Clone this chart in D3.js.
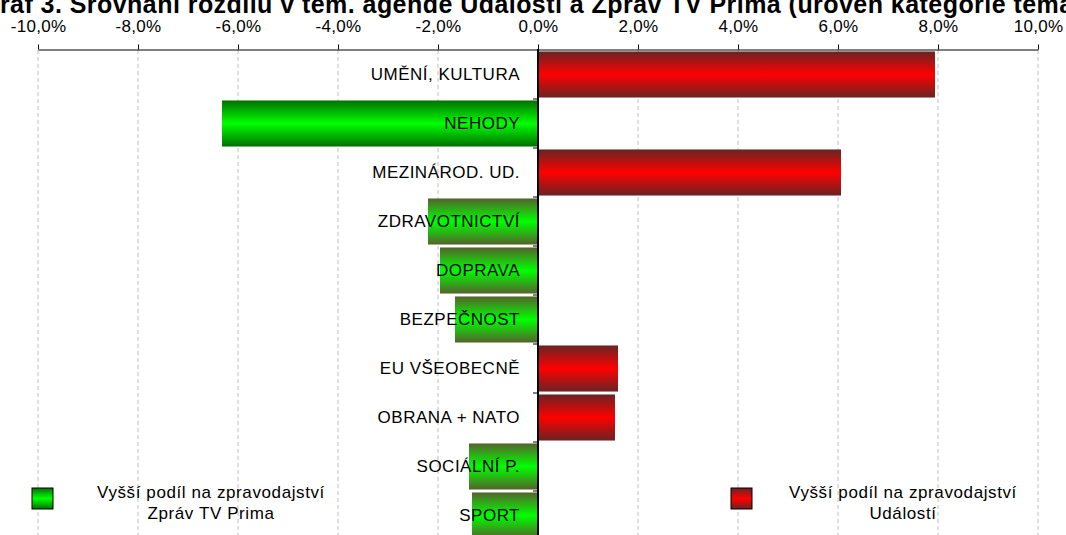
<!DOCTYPE html>
<html>
<head>
<meta charset="utf-8">
<script src="https://cdn.jsdelivr.net/npm/d3@7"></script>
<style>
  body { margin: 0; background: #fff; overflow: hidden; }
  svg { display: block; font-family: "Liberation Sans", Arial, sans-serif; }
</style>
</head>
<body>
<svg width="1066" height="535"></svg>
<script>
let categories = [
  "UMĚNÍ, KULTURA",
  "NEHODY",
  "MEZINÁROD. UD.",
  "ZDRAVOTNICTVÍ",
  "DOPRAVA",
  "BEZPEČNOST",
  "EU VŠEOBECNĚ",
  "OBRANA + NATO",
  "SOCIÁLNÍ P.",
  "SPORT"
];
let values = [7.94, -6.32, 6.06, -2.2, -1.96, -1.66, 1.6, 1.54, -1.38, -1.32];
let tickValues = [-10, -8, -6, -4, -2, 0, 2, 4, 6, 8, 10];
let legendLabels = [
  ["Vyšší podíl na zpravodajství", "Zpráv TV Prima"],
  ["Vyšší podíl na zpravodajství", "Událostí"]
];
let title = "Graf 3. Srovnání rozdílu v tem. agendě Událostí a Zpráv TV Prima (úroveň kategorie témat)";

let svg = d3.select("svg");

let x = d3.scaleLinear().domain([-10, 10]).range([38, 1038]);
let y = d3.scaleBand().domain(categories).range([50, 540]).paddingInner(0.06).paddingOuter(0.03);

// gradients
let defs = svg.append("defs");
function grad(id, edge, mid) {
  let g = defs.append("linearGradient")
    .attr("id", id)
    .attr("x1", "0").attr("y1", "0")
    .attr("x2", "0").attr("y2", "1");
  g.append("stop").attr("offset", "0%").attr("stop-color", edge);
  g.append("stop").attr("offset", "50%").attr("stop-color", mid);
  g.append("stop").attr("offset", "100%").attr("stop-color", edge);
}
grad("red", "#6a2323", "#ff0000");
grad("green", "#55632c", "#00ff00");
grad("green2", "#007000", "#00ff00");

// title (runs past the edges, as in the original)
svg.append("text")
  .attr("x", -20)
  .attr("y", 13)
  .attr("font-size", "25px")
  .attr("font-weight", "bold")
  .attr("letter-spacing", "0.45px")
  .text(title);

// gridlines
svg.append("g")
  .selectAll("line")
  .data(tickValues)
  .enter()
  .append("line")
  .attr("x1", d => x(d))
  .attr("x2", d => x(d))
  .attr("y1", 50)
  .attr("y2", 535)
  .attr("stroke", "#c0c0c0")
  .attr("stroke-dasharray", "4,3");

// bars
svg.append("g")
  .selectAll("rect")
  .data(values)
  .enter()
  .append("rect")
  .attr("x", d => x(Math.min(0, d)))
  .attr("y", (d, i) => y(categories[i]))
  .attr("width", d => Math.abs(x(d) - x(0)))
  .attr("height", y.bandwidth())
  .attr("fill", (d, i) => d > 0 ? "url(#red)" : (i == 1 ? "url(#green2)" : "url(#green)"));

// top axis
let xAxis = d3.axisTop(x)
  .tickValues(tickValues)
  .tickSize(5)
  .tickSizeOuter(0)
  .tickPadding(13)
  .tickFormat(d => d3.format(".1f")(d).replace(".", ",").replace("−", "-") + "%");

svg.append("g")
  .attr("transform", "translate(0,49.5)")
  .call(xAxis)
  .call(g => g.select(".domain").attr("stroke", "#000"))
  .call(g => g.selectAll("text")
    .attr("font-family", "Liberation Sans, Arial, sans-serif")
    .attr("font-size", "17px")
    .attr("letter-spacing", "0.3px")
    .attr("fill", "#000"));

// vertical axis at zero
let boundaries = categories.map(c => y(c) - y.step() * y.paddingInner() / 2).slice(1);
svg.append("g")
  .selectAll("line")
  .data(boundaries)
  .enter()
  .append("line")
  .attr("x1", x(0) - 5)
  .attr("x2", x(0))
  .attr("y1", d => d)
  .attr("y2", d => d)
  .attr("stroke", "#000");

svg.append("line")
  .attr("x1", x(0))
  .attr("x2", x(0))
  .attr("y1", 49)
  .attr("y2", 535)
  .attr("stroke", "#000")
  .attr("stroke-width", 2);

// category labels
svg.append("g")
  .selectAll("text")
  .data(categories)
  .enter()
  .append("text")
  .attr("x", 520)
  .attr("y", d => y(d) + y.bandwidth() / 2)
  .attr("dy", "0.35em")
  .attr("text-anchor", "end")
  .attr("font-size", "17px")
  .attr("letter-spacing", "0.5px")
  .text(d => d);

// legend
let legend = svg.append("g")
  .selectAll("g")
  .data(legendLabels)
  .enter()
  .append("g");

legend.append("rect")
  .attr("x", (d, i) => i == 0 ? 32 : 731)
  .attr("y", 488)
  .attr("width", 21)
  .attr("height", 21)
  .attr("fill", (d, i) => i == 0 ? "url(#green2)" : "url(#red)")
  .attr("stroke", "#000");

legend.append("text")
  .attr("x", (d, i) => i == 0 ? 211 : 903)
  .attr("y", 498)
  .attr("text-anchor", "middle")
  .attr("font-size", "17px")
  .attr("letter-spacing", "0.6px")
  .selectAll("tspan")
  .data(d => d)
  .enter()
  .append("tspan")
  .attr("x", function () { return this.parentNode.getAttribute("x"); })
  .attr("dy", (d, i) => i == 0 ? 0 : 21)
  .text(d => d);
</script>
</body>
</html>
